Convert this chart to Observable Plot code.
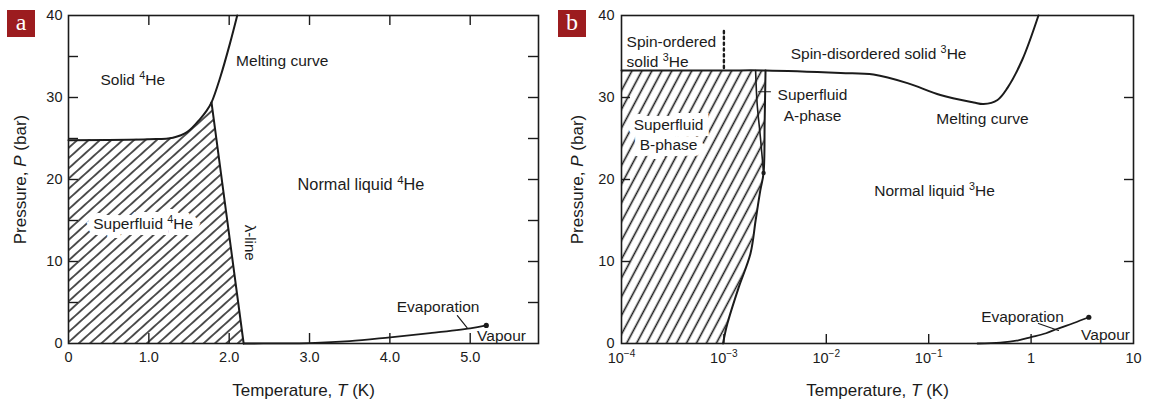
<!DOCTYPE html>
<html><head><meta charset="utf-8">
<script src="https://cdn.jsdelivr.net/npm/d3@7"></script>
<script src="https://cdn.jsdelivr.net/npm/@observablehq/plot@0.6"></script>
<style>
body{margin:0;background:#fff;width:1151px;height:402px;position:relative;overflow:hidden;font-family:"Liberation Sans",Arial,sans-serif;}
.panel{position:absolute;top:0;}
.tag{position:absolute;width:28px;height:27px;background:#9c1c1f;color:#fff;font-family:"Liberation Serif","DejaVu Serif",serif;font-size:24px;line-height:24px;text-align:center;}
</style></head><body>
<div id="a" class="panel" style="left:0"></div>
<div id="b" class="panel" style="left:555px"></div>
<div class="tag" style="left:7px;top:10px">a</div>
<div class="tag" style="left:558px;top:10px">b</div>
<script>
// ---------- Panel a data (He-4) ----------
const meltA_T = [0, 1.0, 1.3, 1.48, 1.64, 1.72, 1.78, 1.89, 2.01, 2.1];
const meltA_P = [24.8, 24.9, 25.1, 25.8, 27.4, 28.4, 29.4, 32.5, 36.6, 40];
const lambdaA_T = [1.78, 2.18];
const lambdaA_P = [29.4, 0];
const evapA_T = [2.18, 2.6, 3.0, 3.5, 4.0, 4.5, 5.0, 5.2];
const evapA_P = [0, 0.01, 0.05, 0.28, 0.75, 1.26, 1.85, 2.2];
const leaderA_T = [4.84, 4.96];
const leaderA_P = [3.4, 1.95];
const xTicksA = [0, 1, 2, 3, 4, 5];
const xTickLabelsA = ["0", "1.0", "2.0", "3.0", "4.0", "5.0"];
const xInTicksA = [1, 2, 3, 4, 5];
const yTicksA = [0, 10, 20, 30, 40];
const yInTicksA = [5, 10, 15, 20, 25, 30, 35];
const labelsA = ["Solid ⁴He", "Melting curve", "Evaporation", "Vapour"];
const labelsA_T = [0.8, 2.66, 4.6, 5.39];
const labelsA_P = [32.1, 34.5, 4.4, 0.85];
const liquidLabelA = "Normal liquid ⁴He", liquidLabelA_T = 3.64, liquidLabelA_P = 19.3;
const haloLabelA = "Superfluid ⁴He", haloLabelA_T = 0.93, haloLabelA_P = 14.6;
const lambdaLabel = "λ-line", lambdaLabel_T = 2.26, lambdaLabel_P = 12.3;

// ---------- Panel b data (He-3) ----------
const meltB_T = [1e-4, 1e-3, 2.55e-3, 0.0138, 0.0289, 0.062, 0.130, 0.275, 0.343, 0.47, 0.59, 0.82, 1.18];
const meltB_P = [33.3, 33.3, 33.3, 33.0, 32.8, 31.75, 30.3, 29.4, 29.2, 29.7, 31.2, 34.6, 40];
const tcB_P = [0, 2.4, 6.9, 11.0, 15.0, 18.7, 20.8, 27, 33.3];
const tcB_T = [0.98e-3, 1.08e-3, 1.40e-3, 1.82e-3, 2.04e-3, 2.27e-3, 2.44e-3, 2.5e-3, 2.55e-3];
const abB_P = [20.8, 25.2, 29.3, 33.3];
const abB_T = [2.44e-3, 2.27e-3, 2.11e-3, 2.04e-3];
const pcpB_T = 2.44e-3, pcpB_P = 20.8;
const spinB_T = [1e-3, 1e-3];
const spinB_P = [33.6, 38.3];
const evapB_T = [0.3, 0.5, 0.75, 1.0, 1.4, 1.81, 2.61, 3.66];
const evapB_P = [0, 0.1, 0.38, 0.77, 1.25, 1.8, 2.5, 3.2];
const leaderB1_T = [1.18, 1.85];
const leaderB1_P = [2.44, 1.59];
const leaderB2_T = [2.18e-3, 2.85e-3];
const leaderB2_P = [30.7, 30.7];
const xTicksB = [1e-4, 1e-3, 1e-2, 1e-1, 1, 10];
const xTickLabelsB = ["10⁻⁴", "10⁻³", "10⁻²", "10⁻¹", "1", "10"];
const xInTicksB = [1e-3, 1e-2, 1e-1, 1];
const yTicksB = [0, 10, 20, 30, 40];
const yInTicksB = [10, 20, 30];
const labelsB = ["Spin-disordered solid ³He", "Superfluid\nA-phase", "Melting curve", "Normal liquid ³He", "Evaporation", "Vapour"];
const labelsB_T = [0.0324, 7.33e-3, 0.335, 0.114, 0.824, 5.33];
const labelsB_P = [35.45, 29.2, 27.5, 18.8, 3.42, 1.22];
const spinOrdLabel = "Spin-ordered\nsolid ³He", spinOrdLabel_T = 1.12e-4, spinOrdLabel_P = 35.7;
const haloLabelB = "Superfluid\nB-phase", haloLabelB_T = 2.88e-4, haloLabelB_P = 25.6;

// ---------- helpers ----------
const zip = (T, P) => T.map((t, i) => ({T: t, P: P[i]}));
const INK = "#1b1b1b";
const FONT = "'Liberation Sans', Arial, Helvetica, sans-serif";
const H = 402, MT = 15, MB = 59;

function addPattern(svg, id, spacing, angle, sw) {
  const ns = "http://www.w3.org/2000/svg";
  const defs = document.createElementNS(ns, "defs");
  defs.innerHTML = `<pattern id="${id}" patternUnits="userSpaceOnUse" width="${spacing}" height="${spacing}" patternTransform="rotate(${angle})"><line x1="${spacing/2}" y1="-1" x2="${spacing/2}" y2="${spacing+1}" stroke="${INK}" stroke-width="${sw}"/></pattern>`;
  svg.insertBefore(defs, svg.firstChild);
}
const SUP = {"⁰":"0","¹":"1","²":"2","³":"3","⁴":"4","⁵":"5","⁶":"6","⁷":"7","⁸":"8","⁹":"9","⁻":"−"};
function supify(svg) {
  const ns = "http://www.w3.org/2000/svg";
  svg.querySelectorAll("text, tspan").forEach(el => {
    if (el.children.length) return;
    const s = el.textContent;
    if (![...s].some(c => SUP[c])) return;
    const fs = parseFloat(getComputedStyle(el).fontSize) || 15;
    const shift = Math.round(fs * 0.38), sfs = (fs * 0.7).toFixed(1);
    const runs = [];
    for (const c of s) {
      const isS = !!SUP[c];
      if (runs.length && runs[runs.length-1].s === isS) runs[runs.length-1].t += isS ? SUP[c] : c;
      else runs.push({s: isS, t: isS ? SUP[c] : c});
    }
    el.textContent = "";
    let raised = false;
    for (const r of runs) {
      const t = document.createElementNS(ns, "tspan");
      t.textContent = r.t;
      if (r.s) { t.setAttribute("dy", -shift); t.setAttribute("font-size", sfs + "px"); raised = true; }
      else if (raised) { t.setAttribute("dy", shift); raised = false; }
      el.appendChild(t);
    }
  });
}
function italicize(svg, plain, html, size) {
  svg.querySelectorAll("text").forEach(el => {
    if (el.textContent === plain) { el.innerHTML = html; el.setAttribute("font-size", size); }
  });
}

// ---------- Panel a ----------
const WA = 555, MLA = 68, MRA = 17;
const frameWA = WA - MLA - MRA, frameH = H - MT - MB;
const meltA = zip(meltA_T, meltA_P);
const hatchA = meltA.filter(d => d.T <= lambdaA_T[0]).concat([{T: lambdaA_T[1], P: lambdaA_P[1]}]);
const plotA = Plot.plot({
  width: WA, height: H, marginLeft: MLA, marginRight: MRA, marginTop: MT, marginBottom: MB,
  style: {fontFamily: FONT, fontSize: "14.5px", color: INK, background: "white", overflow: "visible"},
  x: {domain: [0, 5.85]},
  y: {domain: [0, 40]},
  marks: [
    Plot.areaY(hatchA, {x: "T", y: "P", fill: "url(#hatchA)"}),
    Plot.line(meltA, {x: "T", y: "P", curve: "catmull-rom", stroke: INK, strokeWidth: 2}),
    Plot.line(zip(lambdaA_T, lambdaA_P), {x: "T", y: "P", stroke: INK, strokeWidth: 2}),
    Plot.line(zip(evapA_T, evapA_P), {x: "T", y: "P", curve: "catmull-rom", stroke: INK, strokeWidth: 1.8}),
    Plot.dot([zip(evapA_T, evapA_P).at(-1)], {x: "T", y: "P", r: 2.6, fill: INK}),
    Plot.line(zip(leaderA_T, leaderA_P), {x: "T", y: "P", stroke: INK, strokeWidth: 1.2}),
    Plot.frame({stroke: INK, strokeWidth: 1.6}),
    Plot.ruleX(xInTicksA, {insetTop: frameH - 10, stroke: INK, strokeWidth: 1.4}),
    Plot.ruleX(xInTicksA, {insetBottom: frameH - 10, stroke: INK, strokeWidth: 1.4}),
    Plot.ruleY(yInTicksA, {insetRight: frameWA - 10, stroke: INK, strokeWidth: 1.4}),
    Plot.ruleY(yInTicksA, {insetLeft: frameWA - 10, stroke: INK, strokeWidth: 1.4}),
    Plot.axisX({ticks: xTicksA, tickFormat: d => xTickLabelsA[xTicksA.indexOf(d)], tickSize: 0, tickPadding: 8,
      label: "Temperature, T (K)", labelAnchor: "center", labelOffset: 52, labelArrow: "none"}),
    Plot.axisY({ticks: yTicksA, tickSize: 0, tickPadding: 6,
      label: "Pressure, P (bar)", labelAnchor: "center", labelOffset: 55, labelArrow: "none"}),
    Plot.text([haloLabelA], {x: haloLabelA_T, y: haloLabelA_P, text: d => d, fontSize: 15.5, fill: "white", stroke: "white", strokeWidth: 12, strokeLinejoin: "miter"}),
    Plot.text([haloLabelA], {x: haloLabelA_T, y: haloLabelA_P, text: d => d, fontSize: 15.5, fill: INK}),
    Plot.text([lambdaLabel], {x: lambdaLabel_T, y: lambdaLabel_P, text: d => d, rotate: 90, fontSize: 15, fill: INK}),
    Plot.text([liquidLabelA], {x: liquidLabelA_T, y: liquidLabelA_P, text: d => d, fontSize: 16.3, fill: INK}),
    Plot.text(labelsA, {x: (d, i) => labelsA_T[i], y: (d, i) => labelsA_P[i], text: d => d, fontSize: 15.5, fill: INK})
  ]
});
document.getElementById("a").appendChild(plotA);
addPattern(plotA, "hatchA", 7.6, 48, 1.5);
supify(plotA);
italicize(plotA, "Temperature, T (K)", 'Temperature, <tspan font-style="italic">T</tspan> (K)', "17px");
italicize(plotA, "Pressure, P (bar)", 'Pressure, <tspan font-style="italic">P</tspan> (bar)', "17px");

// ---------- Panel b ----------
const WB = 596, MLB = 66, MRB = 18;
const frameWB = WB - MLB - MRB;
const tcB = zip(tcB_T, tcB_P);
const plotB = Plot.plot({
  width: WB, height: H, marginLeft: MLB, marginRight: MRB, marginTop: MT, marginBottom: MB,
  style: {fontFamily: FONT, fontSize: "14.5px", color: INK, background: "white", overflow: "visible"},
  x: {type: "log", domain: [1e-4, 10]},
  y: {domain: [0, 40]},
  marks: [
    Plot.areaX(tcB, {y: "P", x1: 1e-4, x2: "T", fill: "url(#hatchB)"}),
    Plot.line(zip(meltB_T, meltB_P), {x: "T", y: "P", curve: "catmull-rom", stroke: INK, strokeWidth: 2}),
    Plot.line(tcB, {x: "T", y: "P", curve: "catmull-rom", stroke: INK, strokeWidth: 2}),
    Plot.line(zip(abB_T, abB_P), {x: "T", y: "P", curve: "catmull-rom", stroke: INK, strokeWidth: 1.6}),
    Plot.dot([{T: pcpB_T, P: pcpB_P}], {x: "T", y: "P", r: 2.2, fill: INK}),
    Plot.line(zip(spinB_T, spinB_P), {x: "T", y: "P", stroke: INK, strokeWidth: 2.4, strokeDasharray: "2.2,3.6"}),
    Plot.line(zip(evapB_T, evapB_P), {x: "T", y: "P", curve: "catmull-rom", stroke: INK, strokeWidth: 1.8}),
    Plot.dot([zip(evapB_T, evapB_P).at(-1)], {x: "T", y: "P", r: 2.6, fill: INK}),
    Plot.line(zip(leaderB1_T, leaderB1_P), {x: "T", y: "P", stroke: INK, strokeWidth: 1.2}),
    Plot.line(zip(leaderB2_T, leaderB2_P), {x: "T", y: "P", stroke: INK, strokeWidth: 1.2}),
    Plot.frame({stroke: INK, strokeWidth: 1.6}),
    Plot.ruleX(xInTicksB, {insetTop: frameH - 9, stroke: INK, strokeWidth: 1.4}),
    Plot.ruleY(yInTicksB, {insetRight: frameWB - 9, stroke: INK, strokeWidth: 1.4}),
    Plot.ruleY(yInTicksB, {insetLeft: frameWB - 9, stroke: INK, strokeWidth: 1.4}),
    Plot.axisX({ticks: xTicksB, tickFormat: d => xTickLabelsB[xTicksB.indexOf(d)], tickSize: 0, tickPadding: 9,
      label: "Temperature, T (K)", labelAnchor: "center", labelOffset: 52, labelArrow: "none"}),
    Plot.axisY({ticks: yTicksB, tickSize: 0, tickPadding: 7,
      label: "Pressure, P (bar)", labelAnchor: "center", labelOffset: 51, labelArrow: "none"}),
    Plot.text([haloLabelB], {x: haloLabelB_T, y: haloLabelB_P, text: d => d, fontSize: 15.5, lineHeight: 1.3, fill: "white", stroke: "white", strokeWidth: 12, strokeLinejoin: "miter"}),
    Plot.text([haloLabelB], {x: haloLabelB_T, y: haloLabelB_P, text: d => d, fontSize: 15.5, lineHeight: 1.3, fill: INK}),
    Plot.text([spinOrdLabel], {x: spinOrdLabel_T, y: spinOrdLabel_P, text: d => d, textAnchor: "start", fontSize: 15.5, lineHeight: 1.3, fill: INK}),
    Plot.text(labelsB, {x: (d, i) => labelsB_T[i], y: (d, i) => labelsB_P[i], text: d => d, fontSize: 15.5, lineHeight: 1.3, fill: INK})
  ]
});
document.getElementById("b").appendChild(plotB);
addPattern(plotB, "hatchB", 8.8, 28, 1.6);
supify(plotB);
italicize(plotB, "Temperature, T (K)", 'Temperature, <tspan font-style="italic">T</tspan> (K)', "17px");
italicize(plotB, "Pressure, P (bar)", 'Pressure, <tspan font-style="italic">P</tspan> (bar)', "17px");
</script>
</body></html>
